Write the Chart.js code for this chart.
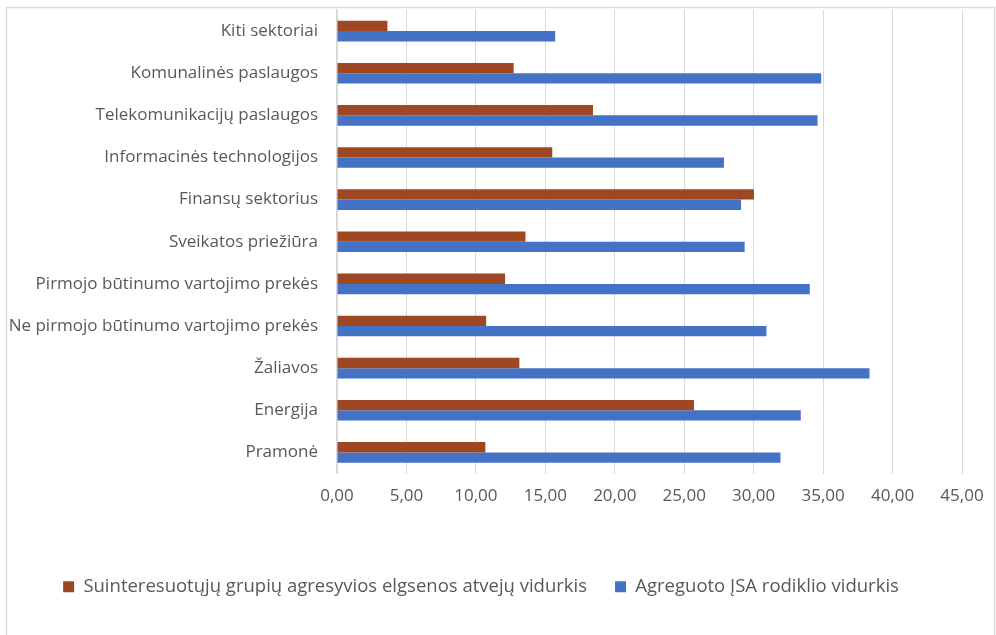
<!DOCTYPE html>
<html>
<head>
<meta charset="utf-8">
<script src="https://cdn.jsdelivr.net/npm/chart.js@4/dist/chart.umd.min.js"></script>
<style>
  html, body { margin: 0; padding: 0; background: #fff; }
  #wrap { width: 996px; height: 635px; position: relative; }
</style>
</head>
<body>
<div id="wrap"><canvas id="sectorChart"></canvas></div>
<script>
// sektoriai (iš viršaus į apačią)
var sektoriai = [
  'Kiti sektoriai',
  'Komunalinės paslaugos',
  'Telekomunikacijų paslaugos',
  'Informacinės technologijos',
  'Finansų sektorius',
  'Sveikatos priežiūra',
  'Pirmojo būtinumo vartojimo prekės',
  'Ne pirmojo būtinumo vartojimo prekės',
  'Žaliavos',
  'Energija',
  'Pramonė'
];
var agresyviosElgsenos = [3.63, 12.72, 18.43, 15.50, 30.02, 13.57, 12.10, 10.74, 13.13, 25.70, 10.68];
var jsaRodiklis = [15.71, 34.86, 34.60, 27.86, 29.09, 29.35, 34.04, 30.92, 38.34, 33.39, 31.93];
var serijuPavadinimai = ['Suinteresuotųjų grupių agresyvios elgsenos atvejų vidurkis', 'Agreguoto ĮSA rodiklio vidurkis'];
var asiesMin = 0, asiesMax = 45, asiesZingsnis = 5;

var pilka = '#595959';
var tinklelis = '#d9d9d9';

// rėmelis aplink visą diagramą
var remelis = {
  id: 'remelis',
  beforeDraw: function(chart) {
    var c = chart.ctx;
    c.save();
    c.strokeStyle = tinklelis;
    c.lineWidth = 1.5;
    c.strokeRect(6.5, 7.5, 988, 650);
    c.restore();
  }
};

var ctx = document.getElementById('sectorChart').getContext('2d');
var chart = new Chart(ctx, {
  type: 'bar',
  data: {
    labels: sektoriai,
    datasets: [{
      label: serijuPavadinimai[0],
      data: agresyviosElgsenos,
      backgroundColor: '#9E4823',
      borderWidth: 0
    }, {
      label: serijuPavadinimai[1],
      data: jsaRodiklis,
      backgroundColor: '#4472C4',
      borderWidth: 0
    }]
  },
  options: {
    indexAxis: 'y',
    responsive: true,
    maintainAspectRatio: false,
    animation: false,
    layout: { padding: { top: 10, right: 34, bottom: 29, left: 0 } },
    datasets: { bar: { categoryPercentage: 0.49, barPercentage: 1.0 } },
    plugins: {
      tooltip: { enabled: false },
      legend: {
        position: 'bottom',
        labels: {
          boxWidth: 11,
          boxHeight: 11,
          padding: 28,
          color: pilka,
          font: { family: 'Open Sans', size: 18.5 }
        }
      }
    },
    scales: {
      x: {
        min: asiesMin,
        max: asiesMax,
        ticks: {
          stepSize: asiesZingsnis,
          color: pilka,
          padding: 12,
          font: { family: 'Open Sans', size: 17 },
          callback: function(v) { return v.toFixed(2).replace('.', ','); }
        },
        grid: { color: tinklelis, lineWidth: 1, drawTicks: false },
        border: { display: false },
        afterFit: function(scale) { scale.height = 76; }
      },
      y: {
        ticks: {
          color: pilka,
          padding: 19,
          font: { family: 'Open Sans', size: 17 }
        },
        grid: { display: false, drawTicks: false },
        border: { display: true, color: tinklelis, width: 1.5 },
        afterFit: function(scale) {
          scale.width = 337;
          scale.paddingTop = 0;
          scale.paddingBottom = 0;
        }
      }
    }
  },
  plugins: [remelis]
});
</script>
</body>
</html>
